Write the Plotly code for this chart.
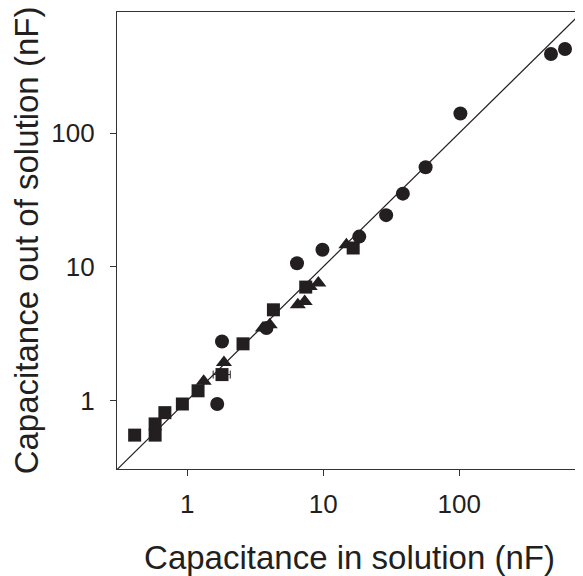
import plotly.graph_objects as go

# Data (nF)
square_x = [0.41, 0.58, 0.58, 0.684, 0.92, 1.2, 1.8, 2.57, 4.3, 7.43, 16.6]
square_y = [0.55, 0.55, 0.667, 0.81, 0.94, 1.18, 1.56, 2.65, 4.76, 7.04, 13.8]
square_err_plus = [0, 0, 0, 0, 0, 0, 0.27, 0, 0, 0, 0]
square_err_minus = [0, 0, 0, 0, 0, 0, 0.25, 0, 0, 0, 0]

triangle_x = [1.32, 1.86, 3.6, 4.04, 6.5, 7.3, 7.95, 9.2, 14.8]
triangle_y = [1.39, 1.92, 3.48, 3.68, 5.19, 5.5, 7.1, 7.54, 14.6]

circle_x = [1.66, 1.8, 3.82, 6.41, 9.86, 18.4, 29, 38.5, 56.6, 102, 473, 600]
circle_y = [0.94, 2.76, 3.48, 10.6, 13.4, 16.8, 24.3, 35.2, 55.5, 140, 390, 425]

identity = [0.2, 1000]
tick_vals = [1, 10, 100]
tick_text = ["1", "10", "100"]

ink = "#231f20"
font_family = "Liberation Sans, Arial, sans-serif"

fig = go.Figure()
fig.add_trace(go.Scatter(x=identity, y=identity, mode="lines",
                         line=dict(color=ink, width=1.2), hoverinfo="skip"))
fig.add_trace(go.Scatter(x=square_x, y=square_y, mode="markers",
                         marker=dict(symbol="square", size=13, color=ink),
                         error_x=dict(type="data", array=square_err_plus,
                                      arrayminus=square_err_minus,
                                      color=ink, thickness=1, width=4)))
fig.add_trace(go.Scatter(x=triangle_x, y=triangle_y, mode="markers",
                         marker=dict(symbol="triangle-up", size=14, color=ink)))
fig.add_trace(go.Scatter(x=circle_x, y=circle_y, mode="markers",
                         marker=dict(symbol="circle", size=14, color=ink)))

axis_common = dict(
    type="log", showgrid=False, zeroline=False, showline=True, linecolor="#333",
    linewidth=1.2, mirror=True, ticks="outside", ticklen=6, tickwidth=1.2,
    tickcolor="#333", tickvals=tick_vals, ticktext=tick_text, automargin=False,
    tickfont=dict(family=font_family, size=26, color=ink),
)

# The page body adds an 8px offset; the figure is sized to fill the rest.
fig.update_layout(
    width=575, height=568,
    margin=dict(l=109, r=1, t=4, b=107),
    paper_bgcolor="white", plot_bgcolor="white",
    showlegend=False,
    font=dict(family=font_family, color=ink),
    xaxis=dict(range=[-0.517, 2.903], ticklabelstandoff=6,
               title=dict(text="Capacitance in solution (nF)",
                          font=dict(family=font_family, size=33, color=ink),
                          standoff=27),
               **axis_common),
    yaxis=dict(range=[-0.513, 2.905], ticklabelstandoff=10,
               title=dict(text="Capacitance out of solution (nF)",
                          font=dict(family=font_family, size=33, color=ink),
                          standoff=12),
               **axis_common),
)

fig.write_html("out.html")
